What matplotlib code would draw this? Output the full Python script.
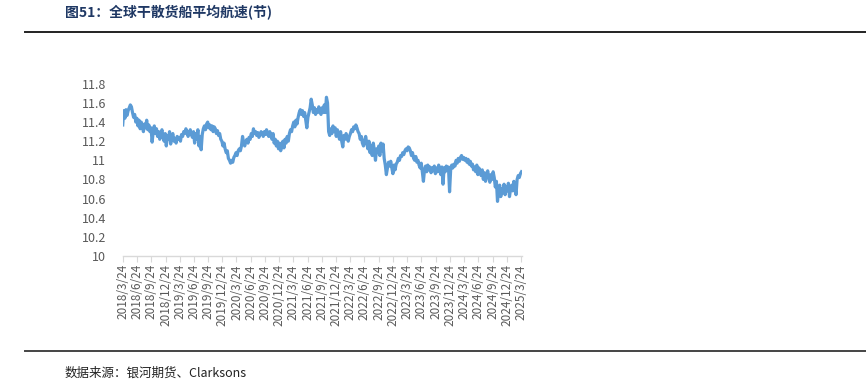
import pandas as pd
import matplotlib.pyplot as plt
from matplotlib.lines import Line2D

plt.rcParams['font.family'] = ['Noto Sans CJK SC', 'DejaVu Sans']

# weekly average speed of dry bulk fleet (knots), one row per quarter
speed = [
    11.37, 11.52, 11.44, 11.53, 11.47, 11.52, 11.55, 11.58, 11.56, 11.50, 11.45, 11.48, 11.40,
    11.44, 11.36, 11.42, 11.33, 11.40, 11.36, 11.30, 11.38, 11.34, 11.42, 11.32, 11.37, 11.30,
    11.34, 11.19, 11.30, 11.36, 11.28, 11.33, 11.25, 11.30, 11.22, 11.28, 11.32, 11.24, 11.20,
    11.28, 11.15, 11.26, 11.22, 11.30, 11.17, 11.25, 11.28, 11.20, 11.23, 11.18, 11.25, 11.22,
    11.24, 11.20, 11.27, 11.25, 11.30, 11.28, 11.33, 11.30, 11.25, 11.28, 11.32, 11.27, 11.24,
    11.30, 11.18, 11.28, 11.22, 11.32, 11.15, 11.25, 11.11, 11.27, 11.33, 11.36, 11.32, 11.38,
    11.40, 11.34, 11.37, 11.32, 11.36, 11.30, 11.35, 11.33, 11.28, 11.31, 11.26, 11.28, 11.22,
    11.20, 11.15, 11.18, 11.12, 11.08, 11.10, 11.02, 11.00, 10.97, 11.00, 10.98, 11.03, 11.05,
    11.08, 11.05, 11.10, 11.12, 11.10, 11.15, 11.25, 11.18, 11.15, 11.20, 11.22, 11.18, 11.24,
    11.22, 11.28, 11.25, 11.33, 11.28, 11.30, 11.26, 11.29, 11.24, 11.27, 11.30, 11.28, 11.25,
    11.30, 11.27, 11.32, 11.28, 11.25, 11.30, 11.26, 11.22, 11.28, 11.18, 11.22, 11.15, 11.20,
    11.12, 11.18, 11.10, 11.15, 11.20, 11.13, 11.22, 11.18, 11.25, 11.20, 11.28, 11.32, 11.30,
    11.36, 11.40, 11.35, 11.42, 11.38, 11.45, 11.50, 11.53, 11.48, 11.52, 11.46, 11.50, 11.42,
    11.34, 11.45, 11.50, 11.55, 11.64, 11.58, 11.50, 11.55, 11.48, 11.53, 11.50, 11.56, 11.52,
    11.48, 11.55, 11.50, 11.58, 11.50, 11.66, 11.60, 11.30, 11.26, 11.33, 11.28, 11.36, 11.30,
    11.34, 11.25, 11.32, 11.27, 11.22, 11.30, 11.20, 11.14, 11.26, 11.22, 11.28, 11.24, 11.20,
    11.25, 11.28, 11.32, 11.30, 11.35, 11.33, 11.37, 11.34, 11.30, 11.28, 11.22, 11.25, 11.18,
    11.15, 11.20, 11.25, 11.18, 11.12, 11.20, 11.08, 11.15, 11.05, 11.18, 11.10, 11.00, 11.12,
    11.08, 11.15, 11.05, 11.18, 11.10, 11.17, 11.02, 10.95, 10.85, 10.92, 10.98, 10.94, 10.99,
    10.92, 10.86, 10.95, 10.90, 10.96, 10.98, 11.02, 11.00, 11.05, 11.04, 11.08, 11.06, 11.10,
    11.12, 11.10, 11.14, 11.13, 11.10, 11.05, 11.08, 11.02, 11.00, 11.04, 10.98, 11.00, 10.95,
    10.92, 10.97, 10.88, 10.78, 10.90, 10.94, 10.88, 10.95, 10.90, 10.93, 10.87, 10.92, 10.89,
    10.94, 10.86, 10.92, 10.88, 10.95, 10.90, 10.85, 10.93, 10.75, 10.92, 10.88, 10.94, 10.90,
    10.93, 10.67, 10.90, 10.95, 10.92, 10.96, 10.94, 11.00, 10.97, 11.02, 10.99, 11.03, 11.05,
    11.01, 11.03, 11.00, 11.02, 10.98, 11.01, 10.96, 10.99, 10.94, 10.96, 10.90, 10.93, 10.88,
    10.95, 10.85, 10.92, 10.88, 10.84, 10.90, 10.80, 10.87, 10.78, 10.85, 10.89, 10.82, 10.77,
    10.85, 10.80, 10.88, 10.82, 10.72, 10.78, 10.57, 10.68, 10.74, 10.62, 10.70, 10.66, 10.75,
    10.64, 10.72, 10.68, 10.76, 10.62, 10.70, 10.74, 10.68, 10.78, 10.72, 10.64, 10.80, 10.84,
    10.82, 10.86, 10.88,
]
dates = pd.date_range(start="2018-03-24", periods=len(speed), freq="7D")

# category labels on the x axis (every quarter, day 24)
tick_dates = pd.date_range(start="2018-03-01", end="2025-03-01", freq="3MS") + pd.Timedelta(days=23)
tick_labels = [f"{d.year}/{d.month}/{d.day}" for d in tick_dates]
y_ticks = [10, 10.2, 10.4, 10.6, 10.8, 11, 11.2, 11.4, 11.6, 11.8]

fig = plt.figure(figsize=(8.66, 3.83), dpi=100)
ax = fig.add_axes([0.1417, 0.332, 0.461, 0.449])

ax.plot(dates, speed, color="#5B9BD5", linewidth=2.3, solid_joinstyle="round")

ax.set_ylim(10, 11.8)
ax.set_yticks(y_ticks)
ax.set_yticklabels([f"{v:g}" for v in y_ticks])
ax.set_xlim(dates[0], dates[-1] + pd.Timedelta(days=3))
ax.set_xticks(tick_dates)
ax.set_xticklabels(tick_labels, rotation=90)

for s in ["top", "right", "left"]:
    ax.spines[s].set_visible(False)
ax.spines["bottom"].set_color("#D9D9D9")
ax.spines["bottom"].set_linewidth(1.0)
ax.tick_params(axis="y", length=0, labelsize=9, labelcolor="#595959", pad=12)
ax.tick_params(axis="x", length=4, color="#D9D9D9", labelsize=8.5, labelcolor="#595959", pad=2)

# title, rules and source
fig.text(0.075, 0.968, "图51：全球干散货船平均航速(节)", fontsize=10, fontweight="bold",
         color="#1F3864", va="center", ha="left")
fig.add_artist(Line2D([0.029, 1.0], [0.916, 0.916], color="#222222", linewidth=1.4))
fig.add_artist(Line2D([0.029, 1.0], [0.084, 0.084], color="#444444", linewidth=1.4))
fig.text(0.075, 0.026, "数据来源：银河期货、Clarksons", fontsize=9, color="#222222",
         va="center", ha="left")

fig.savefig("out.png", dpi=100)
